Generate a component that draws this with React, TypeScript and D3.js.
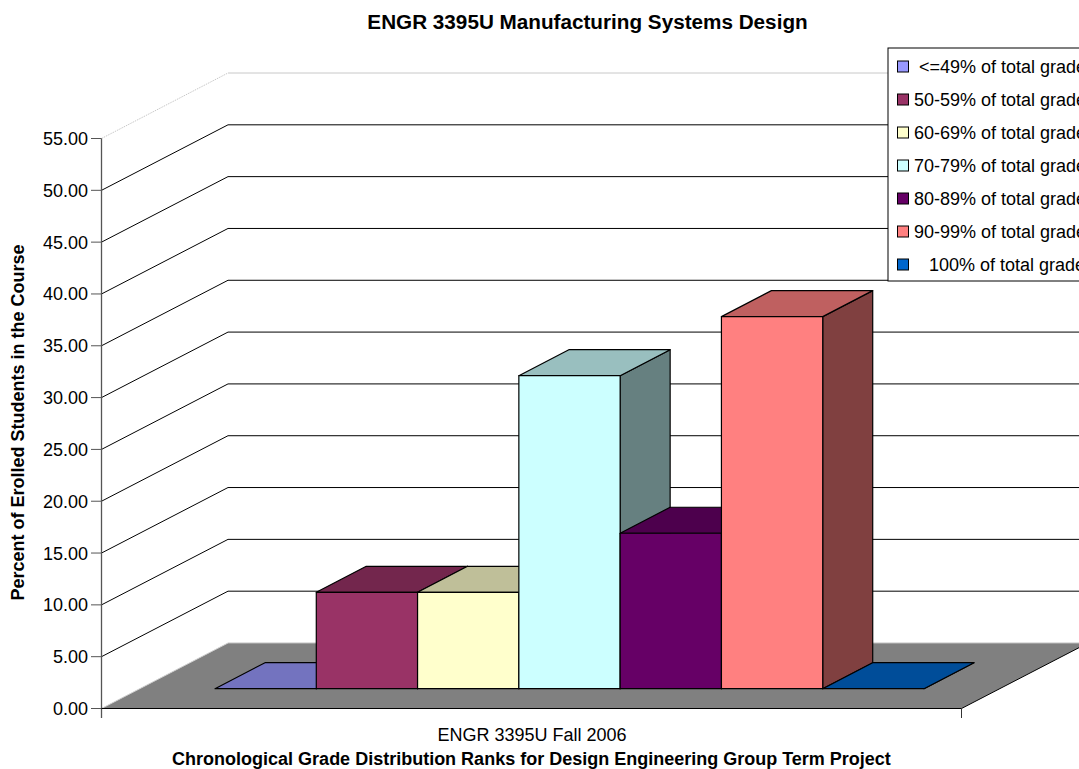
import React from "react";
import * as d3 from "d3";

// Grade bands, in legend order, with the share of students in each
const bands = [
  "\u00a0<=49% of total grade",
  "50-59% of total grade",
  "60-69% of total grade",
  "70-79% of total grade",
  "80-89% of total grade",
  "90-99% of total grade",
  "\u00a0\u00a0\u00a0100% of total grade",
];
const shares = [0, 9.3, 9.3, 30.2, 15.0, 35.9, 0];
const bandColors = ["#9999FF", "#993366", "#FFFFCC", "#CCFFFF", "#660066", "#FF8080", "#0066CC"];
const yTicks = [0, 5, 10, 15, 20, 25, 30, 35, 40, 45, 50, 55];

const chartTitle = "ENGR 3395U Manufacturing Systems Design";
const categoryLabel = "ENGR 3395U Fall 2006";
const xTitle = "Chronological Grade Distribution Ranks for Design Engineering Group Term Project";
const yTitle = "Percent of Erolled Students in the Course";

const WIDTH = 1079;
const HEIGHT = 769;
const FONT = "'Liberation Sans', Arial, sans-serif";
const TEXT_SIZE = 18;

// Oblique projection of the chart box
const left = 101.5;
const right = 961.5;
const wallDx = 126.5;
const wallDy = -65.5;
const barDx = 50;
const barDy = -26;
const baseLift = 19.8;

const y = d3.scaleLinear().domain([0, 55]).range([708.5, 138.5]);
const x = d3.scaleBand<number>().domain(d3.range(bands.length)).range([215, 924]).padding(0);
const shade = (c: string, k: number) => {
  const r = d3.rgb(c);
  return d3.rgb(r.r * k, r.g * k, r.b * k).formatHex();
};
const poly = (pts: [number, number][]) => d3.line()(pts) + "Z";
const fmt = d3.format(".2f");

export default function App() {
  const floor = poly([
    [left, y(0)],
    [right, y(0)],
    [right + wallDx, y(0) + wallDy],
    [left + wallDx, y(0) + wallDy],
  ]);
  const w = x.bandwidth();
  const base = y(0) - baseLift;
  const unit = y(0) - y(1);

  return (
    <svg
      width={WIDTH}
      height={HEIGHT}
      style={{ position: "absolute", left: 0, top: 0, display: "block", background: "#fff" }}
      fontFamily={FONT}
    >
      <path d={floor} fill="#808080" />
      <line x1={left} y1={y(0)} x2={left + wallDx} y2={y(0) + wallDy} stroke="#d0d0d0" />
      <line x1={left + wallDx} y1={y(0) + wallDy} x2={WIDTH} y2={y(0) + wallDy} stroke="#c0c0c0" />
      <line x1={right} y1={y(0)} x2={right + wallDx} y2={y(0) + wallDy} stroke="#000" />

      {yTicks.filter((t) => t > 0).map((t, i, all) => {
        const top = i === all.length - 1;
        const stroke = top ? "#c8c8c8" : "#000";
        return (
          <g key={t} stroke={stroke} strokeWidth={1}>
            <line
              x1={left}
              y1={y(t)}
              x2={left + wallDx}
              y2={y(t) + wallDy}
              strokeDasharray={top ? "1.5 1" : undefined}
            />
            <line x1={left + wallDx} y1={y(t) + wallDy} x2={WIDTH} y2={y(t) + wallDy} />
          </g>
        );
      })}

      {shares.map((v, i) => {
        const x0 = x(i)!;
        const x1 = x0 + w;
        const h = v * unit;
        const top = base - h;
        const color = bandColors[i];
        return (
          <g key={i} stroke="#000" strokeWidth={1.2} strokeLinejoin="round">
            <path
              d={poly([[x1, base], [x1 + barDx, base + barDy], [x1 + barDx, top + barDy], [x1, top]])}
              fill={shade(color, 0.5)}
            />
            <path
              d={poly([[x0, top], [x1, top], [x1 + barDx, top + barDy], [x0 + barDx, top + barDy]])}
              fill={shade(color, 0.75)}
            />
            <rect x={x0} y={top} width={w} height={h} fill={color} />
          </g>
        );
      })}

      <line x1={left} y1={y(55)} x2={left} y2={718} stroke="#555" strokeWidth={1.3} />
      {yTicks.map((t) => (
        <g key={t}>
          <line x1={91} y1={y(t)} x2={left} y2={y(t)} stroke="#555" />
          <text x={88} y={y(t) + 6.5} textAnchor="end" fontSize={TEXT_SIZE} fill="#000">
            {fmt(t)}
          </text>
        </g>
      ))}
      <line x1={left} y1={y(0)} x2={right} y2={y(0)} stroke="#000" />
      <line x1={right} y1={y(0)} x2={right} y2={718} stroke="#333" />

      <text x={587.5} y={29} textAnchor="middle" fontSize={20.7} fontWeight="bold">
        {chartTitle}
      </text>
      <text x={532} y={741} textAnchor="middle" fontSize={TEXT_SIZE}>
        {categoryLabel}
      </text>
      <text x={531.5} y={765} textAnchor="middle" fontSize={TEXT_SIZE} fontWeight="bold">
        {xTitle}
      </text>
      <text
        transform="translate(24,422.5) rotate(-90)"
        textAnchor="middle"
        fontSize={TEXT_SIZE}
        fontWeight="bold"
      >
        {yTitle}
      </text>

      <rect x={888} y={48} width={WIDTH} height={233} fill="#fff" stroke="#000" />
      {bands.map((label, i) => {
        const cy = 66.5 + i * 33;
        return (
          <g key={i}>
            <rect x={897.5} y={cy - 5.5} width={11} height={11} fill={bandColors[i]} stroke="#000" />
            <text x={914} y={cy + 6} fontSize={TEXT_SIZE}>
              {label}
            </text>
          </g>
        );
      })}
    </svg>
  );
}
